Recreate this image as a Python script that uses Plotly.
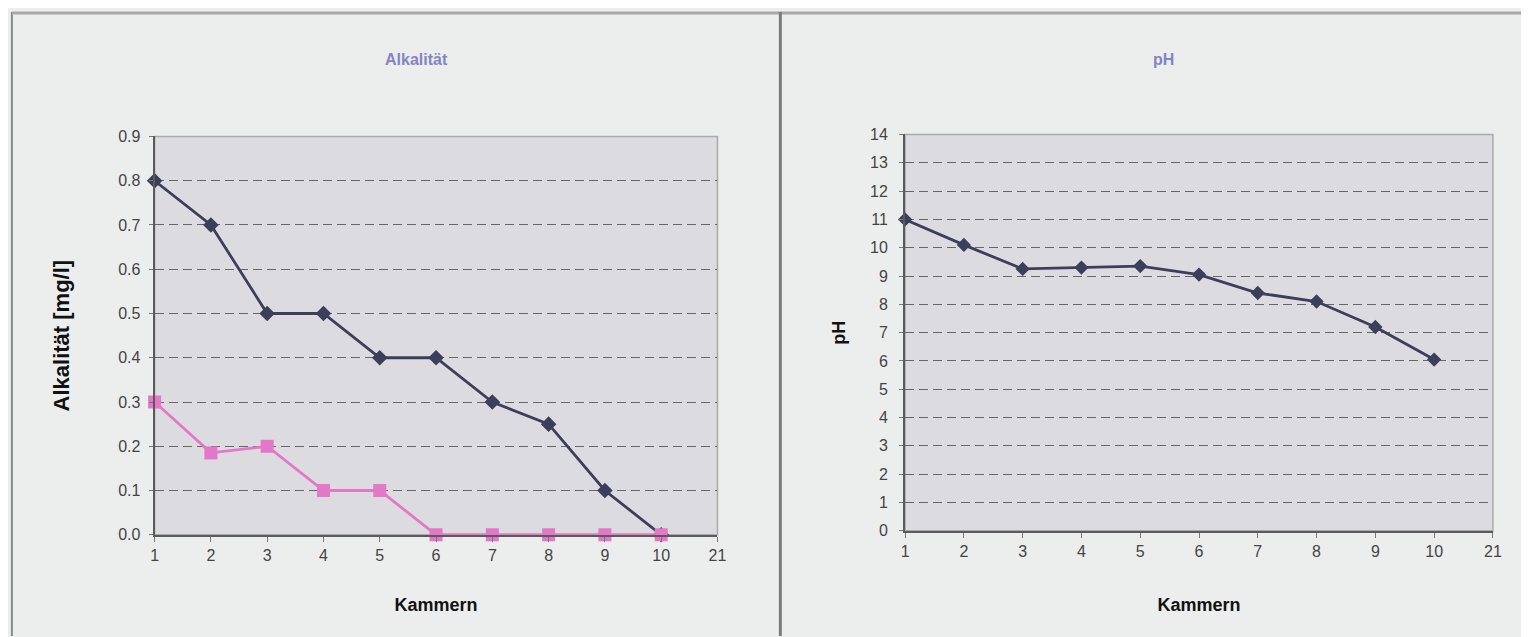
import plotly.graph_objects as go

# ---- data ----
kammern = ["1", "2", "3", "4", "5", "6", "7", "8", "9", "10"]
x_tick_labels = ["1", "2", "3", "4", "5", "6", "7", "8", "9", "10", "21"]
alk_series1 = [0.8, 0.7, 0.5, 0.5, 0.4, 0.4, 0.3, 0.25, 0.1, 0.0]
alk_series2 = [0.3, 0.185, 0.2, 0.1, 0.1, 0.0, 0.0, 0.0, 0.0, 0.0]
ph_values = [11.0, 10.1, 9.25, 9.3, 9.35, 9.05, 8.4, 8.1, 7.2, 6.05]

W, H = 1529, 637
PAGE_BG = "#eceeed"
PLOT_BG = "#dcdce0"
DARK = "#3d3d5c"
PINK = "#e377c8"
TICK_COL = "#444444"
GRID_COL = "#666666"
FONT = "Liberation Sans, Arial"


def px_x(v):
    return ((v - 12.1) / 0.9935) / W


def px_y(v):
    return 1 - ((v - 14.0) / 0.9775) / H


fig = go.Figure()

fig.add_trace(go.Scatter(
    x=kammern, y=alk_series1, mode="lines+markers", xaxis="x", yaxis="y",
    line=dict(color=DARK, width=2.8), marker=dict(symbol="diamond", size=12, color=DARK),
    cliponaxis=False, showlegend=False))
fig.add_trace(go.Scatter(
    x=kammern, y=alk_series2, mode="lines+markers", xaxis="x", yaxis="y",
    line=dict(color=PINK, width=2.8), marker=dict(symbol="square", size=13, color=PINK),
    cliponaxis=False, showlegend=False))
fig.add_trace(go.Scatter(
    x=kammern, y=ph_values, mode="lines+markers", xaxis="x2", yaxis="y2",
    line=dict(color=DARK, width=2.8), marker=dict(symbol="diamond", size=11, color=DARK),
    cliponaxis=False, showlegend=False))

tickfont = dict(family=FONT, size=16, color=TICK_COL)
titlefont = dict(family=FONT, size=18, color="#111111")

xcommon = dict(
    type="category", categoryorder="array", categoryarray=x_tick_labels,
    tickvals=x_tick_labels, ticktext=x_tick_labels, range=[0, 10],
    showgrid=False, zeroline=False, showline=True, linecolor="#5a5a5a", linewidth=2,
    ticks="outside", ticklen=5, tickcolor="#777777", tickfont=tickfont,
)
ycommon = dict(
    showgrid=True, gridcolor=GRID_COL, griddash="9px,5px", gridwidth=1.4,
    zeroline=False, showline=True, linecolor="#5a5a5a", linewidth=2,
    ticks="outside", ticklen=4, tickcolor="#777777", tickfont=tickfont,
)

fig.update_layout(
    width=W, height=H,
    margin=dict(l=0, r=0, t=0, b=0),
    paper_bgcolor=PAGE_BG, plot_bgcolor=PLOT_BG,
    xaxis=dict(domain=[px_x(155), px_x(719)], anchor="y",
               title=dict(text="<b>Kammern</b>", font=titlefont, standoff=35), **xcommon),
    yaxis=dict(domain=[px_y(535), px_y(135)], anchor="x", range=[0, 0.9], dtick=0.1,
               tickformat=".1f", ticklabelstandoff=5,
               title=dict(text="<b>Alkalität [mg/l]</b>", font=dict(family=FONT, size=22, color="#111111"), standoff=42),
               **ycommon),
    xaxis2=dict(domain=[px_x(907), px_x(1496)], anchor="y2",
                title=dict(text="<b>Kammern</b>", font=titlefont, standoff=39), **xcommon),
    yaxis2=dict(domain=[px_y(531), px_y(133)], anchor="x2", range=[0, 14], dtick=1,
                ticklabelstandoff=8,
                title=dict(text="<b>pH</b>", font=titlefont, standoff=20),
                **ycommon),
    shapes=[
        # panel frames
        dict(type="line", xref="paper", yref="paper", x0=px_x(12), x1=px_x(12), y0=0, y1=px_y(10),
             line=dict(color="#8a8a8a", width=2)),
        dict(type="line", xref="paper", yref="paper", x0=px_x(12), x1=1, y0=px_y(11), y1=px_y(11),
             line=dict(color="#a8a8a8", width=3)),
        dict(type="line", xref="paper", yref="paper", x0=px_x(782), x1=px_x(782), y0=0, y1=px_y(10),
             line=dict(color="#7a7a7a", width=3)),
        # plot area borders top/right
        dict(type="rect", xref="paper", yref="paper", x0=px_x(155), x1=px_x(719),
             y0=px_y(535), y1=px_y(135), line=dict(color="#aaaaaa", width=1.5), layer="below"),
        dict(type="rect", xref="paper", yref="paper", x0=px_x(907), x1=px_x(1496),
             y0=px_y(531), y1=px_y(133), line=dict(color="#aaaaaa", width=1.5), layer="below"),
    ],
    annotations=[
        dict(text="<b>Alkalität</b>", x=px_x(417), y=px_y(58), xref="paper", yref="paper",
             xanchor="center", yanchor="middle",
             showarrow=False, font=dict(family=FONT, size=16, color="#8484c4")),
        dict(text="<b>pH</b>", x=px_x(1166), y=px_y(58), xref="paper", yref="paper",
             xanchor="center", yanchor="middle",
             showarrow=False, font=dict(family=FONT, size=16, color="#8484c4")),
    ],
)

fig.write_html("out.html")
